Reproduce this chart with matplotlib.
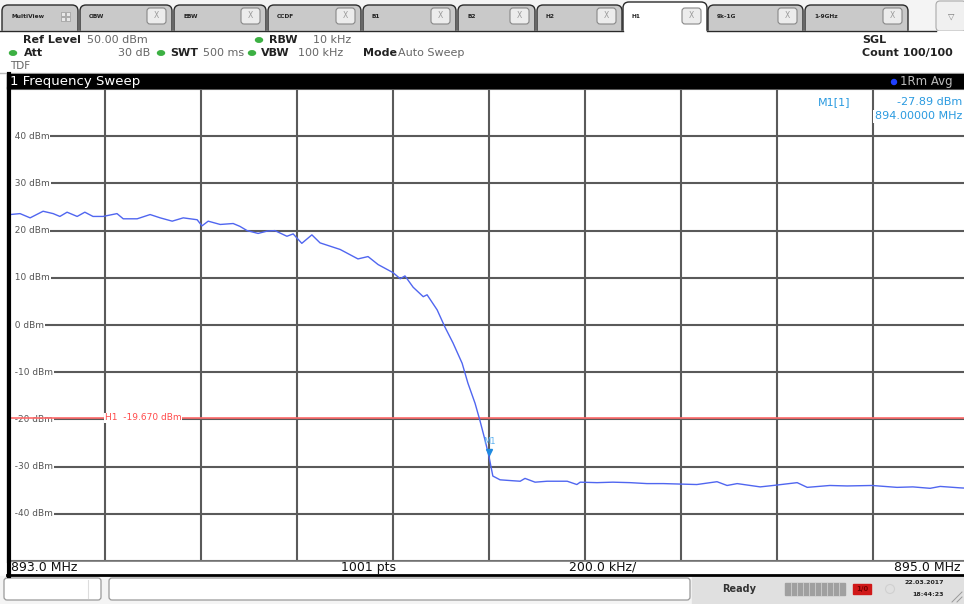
import matplotlib.pyplot as plt
from matplotlib.patches import Rectangle, FancyBboxPatch, Ellipse
import numpy as np

W, H = 964, 604

# trace (MHz, dBm)
freq_mhz = [893.000, 893.002, 893.023, 893.044, 893.071, 893.092, 893.106, 893.121,
            893.142, 893.158, 893.175, 893.196, 893.225, 893.238, 893.267, 893.294,
            893.315, 893.340, 893.363, 893.392, 893.402, 893.415, 893.440, 893.467,
            893.481, 893.496, 893.519, 893.538, 893.554, 893.579, 893.592, 893.610,
            893.631, 893.648, 893.690, 893.727, 893.748, 893.769, 893.800, 893.815,
            893.825, 893.842, 893.863, 893.871, 893.892, 893.908, 893.925, 893.944,
            893.956, 893.971, 893.981, 893.992, 894.000, 894.008, 894.023, 894.050,
            894.065, 894.075, 894.096, 894.121, 894.163, 894.183, 894.190, 894.225,
            894.258, 894.294, 894.329, 894.363, 894.398, 894.433, 894.475, 894.496,
            894.517, 894.565, 894.592, 894.642, 894.663, 894.710, 894.746, 894.798,
            894.850, 894.883, 894.919, 894.940, 894.981, 895.000]
level_dbm = [23.2, 23.4, 23.6, 22.7, 24.1, 23.6, 23.0, 23.9,
             23.0, 23.9, 23.0, 23.0, 23.6, 22.5, 22.5, 23.4,
             22.7, 22.0, 22.7, 22.3, 21.0, 22.0, 21.3, 21.5,
             20.9, 20.0, 19.4, 19.9, 20.0, 18.8, 19.3, 17.3,
             19.1, 17.4, 16.0, 14.0, 14.5, 12.8, 11.1, 9.8,
             10.4, 8.0, 6.0, 6.4, 3.2, -0.4, -3.8, -8.1,
             -12.3, -16.6, -20.2, -24.5, -27.89, -32.0, -32.8, -33.0,
             -33.1, -32.5, -33.3, -33.1, -33.1, -33.8, -33.3, -33.4,
             -33.3, -33.4, -33.6, -33.6, -33.7, -33.8, -33.2, -34.0,
             -33.6, -34.3, -34.0, -33.4, -34.4, -34.0, -34.1, -34.0,
             -34.4, -34.3, -34.6, -34.2, -34.5, -34.6]

grid_levels = [40, 30, 20, 10, 0, -10, -20, -30, -40]
h1_level = -19.670
m1_freq = 894.0
m1_level = -27.89

tab_names = ["MultiView", "OBW", "EBW", "CCDF", "B1", "B2", "H2", "H1", "9k-1G", "1-9GHz"]
tab_edges = [(2, 78), (80, 172), (174, 266), (268, 361), (363, 456), (458, 535),
             (537, 622), (623, 707), (708, 803), (805, 908)]
active_tab = "H1"

plt.rcParams['font.family'] = ['DejaVu Sans']

fig = plt.figure(figsize=(W / 100, H / 100), dpi=100)
fig.patch.set_facecolor('white')

# pixel-space overlay for the instrument chrome
bg = fig.add_axes([0, 0, 1, 1], zorder=0)
bg.set_xlim(0, W)
bg.set_ylim(H, 0)
bg.axis('off')

# tab bar
bg.add_patch(Rectangle((0, 0), W, 31, color='#f4f4f4', zorder=0))
for name, (x0, x1) in zip(tab_names, tab_edges):
    active = name == active_tab
    top = 2 if active else 5
    bg.add_patch(FancyBboxPatch((x0, top), x1 - x0, 36 - top,
                                boxstyle="round,pad=0,rounding_size=6",
                                fc='white' if active else '#c9c9c9', ec='#2a2a2a', lw=1.0, zorder=1))
    bg.text(x0 + 9, 17, name, fontsize=4.2, fontweight='bold', color='#222', va='center', zorder=3)
    if name == "MultiView":
        for dx in (0, 5):
            for dy in (0, 5):
                bg.add_patch(Rectangle((x0 + 59 + dx, 12 + dy), 4, 4, fc='#e8e8e8', ec='#999', lw=0.5, zorder=3))
    else:
        bg.add_patch(FancyBboxPatch((x1 - 25, 8), 19, 16, boxstyle="round,pad=0,rounding_size=3",
                                    fc='#ececec', ec='#888', lw=0.8, zorder=3))
        bg.text(x1 - 15.5, 16, "X", fontsize=5.5, color='#999', ha='center', va='center', zorder=4)
bg.add_patch(FancyBboxPatch((936, 1), 30, 30, boxstyle="round,pad=0,rounding_size=4",
                            fc='#f0f0f0', ec='#aaa', lw=0.8, zorder=1))
bg.text(951, 16, "\u25BD", fontsize=6, color='#777', ha='center', va='center', zorder=3)

# header area
bg.add_patch(Rectangle((0, 31), W, 43, color='white', zorder=2))
bg.plot([0, 623], [31, 31], color='#2a2a2a', lw=1.0, zorder=3)
bg.plot([707, 936], [31, 31], color='#2a2a2a', lw=1.0, zorder=3)
bg.plot([0, W], [72.5, 72.5], color='#bbbbbb', lw=1.0, zorder=3)

hdr = dict(fontsize=8, va='center', zorder=4)
green = '#3cb043'
def dot(x, y):
    bg.add_patch(Ellipse((x, y), 7, 4.5, color=green, zorder=4))

bg.text(23, 40, "Ref Level", fontweight='bold', color='#222', **hdr)
bg.text(87, 40, "50.00 dBm", color='#666', **hdr)
dot(259, 40)
bg.text(269, 40, "RBW", fontweight='bold', color='#222', **hdr)
bg.text(313, 40, "10 kHz", color='#666', **hdr)
dot(13, 53)
bg.text(24, 53, "Att", fontweight='bold', color='#222', **hdr)
bg.text(150, 53, "30 dB", color='#666', ha='right', **hdr)
dot(161, 53)
bg.text(170, 53, "SWT", fontweight='bold', color='#222', **hdr)
bg.text(203, 53, "500 ms", color='#666', **hdr)
dot(252, 53)
bg.text(261, 53, "VBW", fontweight='bold', color='#222', **hdr)
bg.text(298, 53, "100 kHz", color='#666', **hdr)
bg.text(363, 53, "Mode", fontweight='bold', color='#222', **hdr)
bg.text(398, 53, "Auto Sweep", color='#666', **hdr)
bg.text(10, 66, "TDF", color='#666', fontsize=7.5, va='center', zorder=4)
bg.text(862, 40, "SGL", fontweight='bold', color='#222', **hdr)
bg.text(862, 53, "Count 100/100", fontweight='bold', color='#222', **hdr)

# title bar
bg.add_patch(Rectangle((7, 74), W - 7, 15, color='black', zorder=3))
bg.text(10, 81.5, "1 Frequency Sweep", color='white', fontsize=9.5, va='center', zorder=4)
bg.add_patch(Ellipse((894, 82), 5, 5, color='#2040ff', zorder=4))
bg.text(900, 81.5, "1Rm Avg", color='#bbbbbb', fontsize=8.5, va='center', zorder=4)

# footer under the diagram
bg.add_patch(Rectangle((7, 561), W - 7, 14, color='white', zorder=2))
foot = dict(fontsize=9, va='center', color='#111', zorder=4)
bg.text(11, 567.5, "893.0 MHz", **foot)
bg.text(341, 567.5, "1001 pts", **foot)
bg.text(569, 567.5, "200.0 kHz/", **foot)
bg.text(961, 567.5, "895.0 MHz", ha='right', **foot)
bg.plot([7, W], [575, 575], color='black', lw=2.0, zorder=4)
bg.plot([8.5, 8.5], [74, 576], color='black', lw=3.0, zorder=5)

# status bar
bg.add_patch(Rectangle((0, 576), W, 28, color='#f4f4f4', zorder=2))
bg.add_patch(Rectangle((692, 576), W - 692, 28, color='#e0e0e0', zorder=2))
bg.add_patch(FancyBboxPatch((4, 578), 97, 22, boxstyle="round,pad=0,rounding_size=3",
                            fc='white', ec='#9a9a9a', lw=0.9, zorder=3))
bg.plot([88, 88], [580, 598], color='#dddddd', lw=0.8, zorder=4)
bg.add_patch(FancyBboxPatch((109, 578), 581, 22, boxstyle="round,pad=0,rounding_size=3",
                            fc='white', ec='#9a9a9a', lw=0.9, zorder=3))
bg.text(722, 589, "Ready", fontsize=7, fontweight='bold', color='#333', va='center', zorder=4)
bg.add_patch(Rectangle((785, 583), 60, 12, color='#a0a0a0', zorder=3))
for sx in np.arange(791, 845, 6):
    bg.plot([sx, sx], [583, 595], color='#c8c8c8', lw=0.7, zorder=4)
bg.add_patch(Rectangle((853, 584), 18, 10, color='#d01818', zorder=3))
bg.text(862, 589, "1/0", fontsize=5, fontweight='bold', color='#700', ha='center', va='center', zorder=4)
bg.add_patch(Ellipse((890, 589), 9, 9, fc='none', ec='#d0d0d0', lw=0.8, zorder=3))
bg.text(944, 583, "22.03.2017", fontsize=4.5, fontweight='bold', color='#222', ha='right', va='center', zorder=4)
bg.text(944, 594, "18:44:23", fontsize=4.5, fontweight='bold', color='#222', ha='right', va='center', zorder=4)
bg.plot([952, 962], [602, 592], color='#999', lw=0.7, zorder=4)
bg.plot([957, 962], [602, 597], color='#999', lw=0.7, zorder=4)

# the diagram itself
ax = fig.add_axes([9 / W, (H - 561) / H, 960 / W, (561 - 89) / H], zorder=1)
ax.set_facecolor('white')
ax.set_xlim(893.0, 895.0)
ax.set_ylim(-50, 50)
ax.set_xticks(np.linspace(893.0, 895.0, 11))
ax.set_yticks(np.arange(-50, 51, 10))
ax.tick_params(length=0, labelleft=False, labelbottom=False)
ax.grid(True, color='#5a5a5a', lw=1.5)
for side in ('top', 'right'):
    ax.spines[side].set_visible(False)
ax.spines['left'].set_color('black')
ax.spines['left'].set_linewidth(3.0)
ax.spines['left'].set_zorder(10)
ax.spines['bottom'].set_color('#777')
ax.spines['bottom'].set_linewidth(1.2)

ytf = ax.get_yaxis_transform()
for lv in grid_levels:
    ax.text(0.0, lv, f"  {lv} dBm", transform=ytf, fontsize=6.5, color='#555', va='center', ha='left',
            bbox=dict(fc='white', ec='none', pad=0.6), zorder=3)

ax.axhline(h1_level, color='#ff6a6a', lw=1.2, zorder=4)
ax.text(893.2, h1_level, f"H1  {h1_level:.3f} dBm", fontsize=6.5, color='#ff4a4a', va='center', ha='left',
        bbox=dict(fc='white', ec='none', pad=0.4), zorder=5)

ax.plot(freq_mhz, level_dbm, color='#5066f0', lw=1.0, zorder=6)

ax.plot([m1_freq], [m1_level + 1.0], marker='v', color='#1e8ae0', markersize=4.5, zorder=7)
ax.text(m1_freq, m1_level + 2.2, "M1", fontsize=6, color='#5ab0f0', ha='center', va='bottom', zorder=7)

mk = dict(fontsize=8, color='#2a9ae0', va='center', zorder=8,
          bbox=dict(fc='white', ec='none', pad=1.0))
ax.text(893.0 + (818 - 9) / 480, 47.2, "M1[1]", ha='left', **mk)
ax.text(893.0 + (962 - 9) / 480, 47.2, f"{m1_level:.2f} dBm", ha='right', **mk)
ax.text(893.0 + (962 - 9) / 480, 44.2, f"{m1_freq:.5f} MHz", ha='right', **mk)

fig.savefig("out.png", dpi=100, facecolor='white')
